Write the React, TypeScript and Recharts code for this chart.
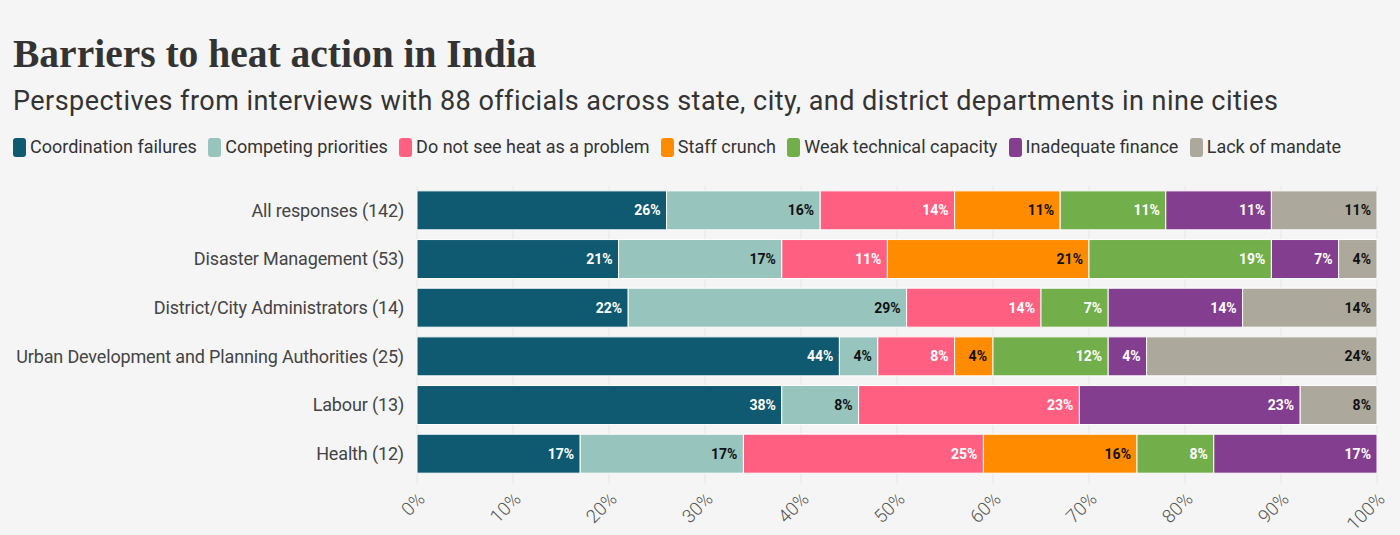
import React from "react";
import { BarChart, Bar, XAxis, YAxis, CartesianGrid, LabelList } from "recharts";

const categories = [
  "All responses (142)",
  "Disaster Management (53)",
  "District/City Administrators (14)",
  "Urban Development and Planning Authorities (25)",
  "Labour (13)",
  "Health (12)",
];

const coordination = [26, 21, 22, 44, 38, 17];
const competing = [16, 17, 29, 4, 8, 17];
const notProblem = [14, 11, 14, 8, 23, 25];
const staffCrunch = [11, 21, 0, 4, 0, 16];
const technical = [11, 19, 7, 12, 0, 8];
const finance = [11, 7, 14, 4, 23, 17];
const mandate = [11, 4, 14, 24, 8, 0];

const xTicks = [0, 10, 20, 30, 40, 50, 60, 70, 80, 90, 100];

const series = [
  { key: "coordination", name: "Coordination failures", color: "#0f5a70", label: "#ffffff", values: coordination },
  { key: "competing", name: "Competing priorities", color: "#97c4bd", label: "#111111", values: competing },
  { key: "notProblem", name: "Do not see heat as a problem", color: "#ff6082", label: "#ffffff", values: notProblem },
  { key: "staff", name: "Staff crunch", color: "#ff8c00", label: "#111111", values: staffCrunch },
  { key: "technical", name: "Weak technical capacity", color: "#72ae4a", label: "#ffffff", values: technical },
  { key: "finance", name: "Inadequate finance", color: "#833e8f", label: "#ffffff", values: finance },
  { key: "mandate", name: "Lack of mandate", color: "#aca89c", label: "#111111", values: mandate },
];

const data = categories.map((name, i) => {
  const row: Record<string, string | number> = { name };
  series.forEach((s) => {
    row[s.key] = s.values[i];
  });
  return row;
});

const FONT = "Roboto, 'Noto Sans', sans-serif";

const XTick = (props: any) => {
  const { x, y, payload } = props;
  return (
    <g transform={`translate(${x + 9},${y + 14})`}>
      <text
        textAnchor="end"
        transform="rotate(-45)"
        fontFamily={FONT}
        fontWeight={300}
        fontSize={18.5}
        fill="#555"
      >
        {payload.value}%
      </text>
    </g>
  );
};

export default function App() {
  return (
    <div
      style={{
        position: "absolute",
        left: 0,
        top: 0,
        width: 1400,
        height: 535,
        background: "#f5f5f5",
        fontFamily: FONT,
        overflow: "hidden",
      }}
    >
      <div
        style={{
          position: "absolute",
          left: 13,
          top: 30,
          fontFamily: "'Liberation Serif', serif",
          fontWeight: 700,
          fontSize: 39.5,
          color: "#333",
          lineHeight: "48px",
        }}
      >
        Barriers to heat action in India
      </div>
      <div
        style={{
          position: "absolute",
          left: 13,
          top: 84,
          fontSize: 27,
          letterSpacing: 0.46,
          color: "#333",
          lineHeight: "34px",
        }}
      >
        Perspectives from interviews with 88 officials across state, city, and district departments in nine cities
      </div>
      <div
        style={{
          position: "absolute",
          left: 13,
          top: 135,
          display: "flex",
          fontSize: 18,
          color: "#333",
          lineHeight: "24px",
          whiteSpace: "nowrap",
        }}
      >
        {series.map((s) => (
          <div key={s.key} style={{ display: "flex", alignItems: "center", marginRight: 11.3 }}>
            <span
              style={{
                display: "inline-block",
                width: 13,
                height: 19,
                borderRadius: 3,
                background: s.color,
                marginRight: 4,
              }}
            />
            {s.name}
          </div>
        ))}
      </div>
      <div style={{ position: "absolute", left: 0, top: 0 }}>
        <BarChart
          width={1400}
          height={535}
          data={data}
          layout="vertical"
          barCategoryGap="10%"
          margin={{ top: 186, right: 23, bottom: 0, left: 0 }}
        >
          <CartesianGrid horizontal={false} stroke="#e6e6e6" />
          <XAxis
            type="number"
            domain={[0, 100]}
            ticks={xTicks}
            interval={0}
            height={57}
            axisLine={false}
            tickLine={{ stroke: "#e6e6e6" }}
            tickSize={6}
            tick={<XTick />}
          />
          <YAxis
            type="category"
            dataKey="name"
            width={417}
            axisLine={false}
            tickLine={false}
            tickSize={0}
            tickMargin={13}
            tick={{ fontFamily: FONT, fontSize: 18, fill: "#444", letterSpacing: -0.15 }}
          />
          {series.map((s) => (
            <Bar
              key={s.key}
              dataKey={s.key}
              name={s.name}
              stackId="a"
              fill={s.color}
              stroke="#ffffff"
              strokeWidth={1}
              isAnimationActive={false}
            >
              <LabelList
                dataKey={s.key}
                position="insideRight"
                offset={6}
                formatter={(v: any) => (v ? `${v}%` : "")}
                fill={s.label}
                fontFamily={FONT}
                fontWeight={700}
                fontSize={14}
              />
            </Bar>
          ))}
        </BarChart>
      </div>
    </div>
  );
}
